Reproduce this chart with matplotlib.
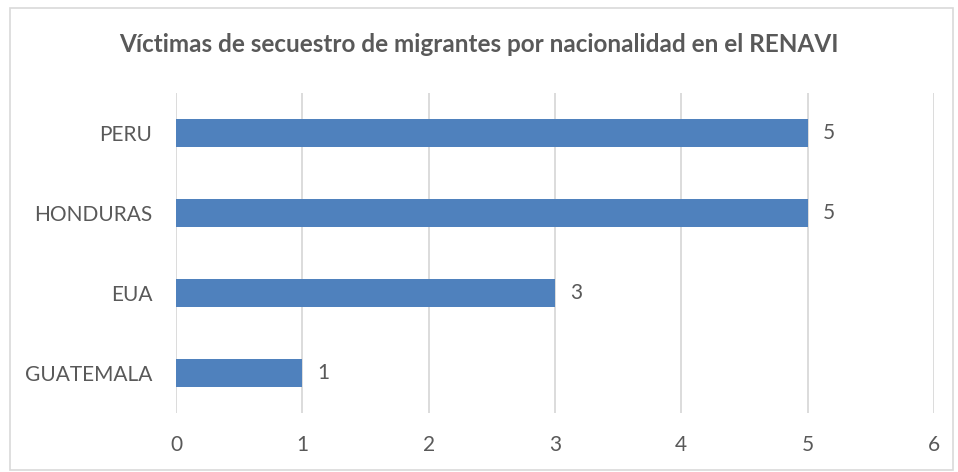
import matplotlib.pyplot as plt
from matplotlib.patches import Rectangle

# data
paises = ['GUATEMALA', 'EUA', 'HONDURAS', 'PERU']
victimas = [1, 3, 5, 5]
ticks_x = [0, 1, 2, 3, 4, 5, 6]

plt.rcParams['font.family'] = ['Lato', 'DejaVu Sans']
gris = '#595959'

fig = plt.figure(figsize=(9.58, 4.72), dpi=100)
ax = fig.add_axes([0.1837, 0.125, 0.7912, 0.678])

pos = list(range(len(paises)))
ax.barh(pos, victimas, height=0.35, color='#4F81BD', zorder=3)
for p, v in zip(pos, victimas):
    ax.text(v + 0.12, p, str(v), va='center', ha='left', fontsize=15, color=gris)

ax.set_xlim(0, 6)
ax.set_ylim(-0.5, 3.5)
ax.set_xticks(ticks_x)
ax.set_yticks(pos)
ax.set_yticklabels(paises)
ax.tick_params(axis='both', length=0, labelsize=15, labelcolor=gris)
ax.tick_params(axis='x', pad=16)
ax.tick_params(axis='y', pad=17)
ax.grid(axis='x', color='#D9D9D9', linewidth=1.3, zorder=0)
for s in ax.spines.values():
    s.set_visible(False)

fig.text(0.5, 0.905, 'Víctimas de secuestro de migrantes por nacionalidad en el RENAVI',
         ha='center', va='center', fontsize=17.5, fontweight='bold', color=gris)

# chart border
fig.patches.append(Rectangle((0.010, 0.004), 0.985, 0.98, transform=fig.transFigure,
                             fill=False, edgecolor='#D9D9D9', linewidth=1.2))

fig.savefig('out.png', dpi=100)
